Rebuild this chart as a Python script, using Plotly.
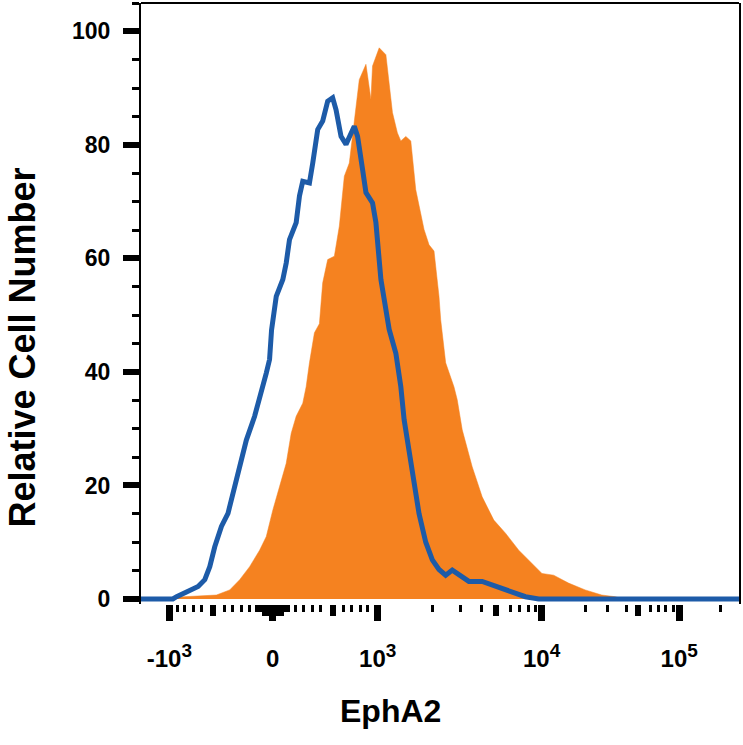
import plotly.graph_objects as go

# Histogram data in display-channel units (0..600 across the logicle axis)
isotype_channel = [0, 32, 35.7, 45.7, 57.3, 64, 69, 74, 80.7, 87.3,
                   92.3, 99, 105.7, 114, 120.7, 125.7, 129, 131, 135.7, 142.3,
                   145.7, 149, 155.7, 159, 162.3, 169, 172.3, 177.3, 182.3, 187.3,
                   192.3, 195.7, 200.7, 205.7, 214, 217.3, 222.3, 225.7, 232.3, 235.7,
                   240.7, 245.7, 249, 255.7, 260.7, 264, 269, 274, 279, 285.7,
                   292.3, 299, 305.7, 312.3, 319, 329, 342.3, 355.7, 372.3, 385.7,
                   399, 600]
isotype_count = [0, 0, 0.4, 1.3, 2.2, 3.4, 5.7, 9.2, 12.8, 15.1,
                 18.6, 23.9, 28.0, 32.2, 36.3, 39.8, 42.2, 47.4, 53.3, 56.3,
                 59.2, 63.3, 66.3, 71.0, 73.6, 73.3, 76.8, 82.7, 84.2, 87.7,
                 88.3, 86.2, 81.5, 80.1, 83.3, 81.5, 75.7, 71.6, 69.8, 66.3,
                 56.3, 51.0, 47.5, 43.3, 37.4, 31.6, 25.7, 19.8, 15.0, 10.0,
                 6.9, 5.2, 4.2, 5.1, 4.2, 3.1, 3.1, 2.2, 1.3, 0.4,
                 0, 0]

epha2_channel = [0, 35.7, 59, 75.7, 89, 99, 109, 119, 125.7, 132.3,
                 139, 145.7, 150.7, 155.7, 162.3, 165.7, 169, 174, 179, 182.3,
                 187.3, 194, 199, 204, 209, 214, 219, 225.7, 230.7, 232.3,
                 239, 245.7, 252.3, 257.3, 260.7, 265.7, 270.7, 275.7, 284, 289,
                 294, 299, 300.7, 305.7, 314, 317.3, 322.3, 332.3, 342.3, 354,
                 365.7, 379, 392.3, 402.3, 414, 429, 445.7, 462.3, 475.7, 484,
                 600]
epha2_count = [0, 0.3, 0.5, 0.7, 1.6, 3.4, 5.7, 8.6, 11.0, 15.7,
               19.8, 23.9, 29.2, 32.2, 34.5, 37.4, 41.6, 46.9, 48.5, 55.7,
               59.8, 60.4, 65.7, 74.5, 76.8, 83.9, 91.5, 94.2, 88.0, 93.9,
               97.1, 95.9, 85.7, 82.1, 80.7, 81.5, 80.7, 72.1, 65.1, 62.4,
               61.3, 53.3, 49.2, 41.6, 37.4, 35.1, 29.8, 23.3, 18.0, 13.9,
               11.6, 8.6, 6.3, 4.5, 4.2, 2.8, 1.6, 0.7, 0.4, 0,
               0]

# Axis ticks (channel positions of the logicle scale)
x_major_vals = [28.5, 132, 237.5, 402, 540]
x_major_text = ["-10<sup><span style='font-size:19px'>3</span></sup>", "0",
                "10<sup><span style='font-size:19px'>3</span></sup>",
                "10<sup><span style='font-size:19px'>4</span></sup>",
                "10<sup><span style='font-size:19px'>5</span></sup>"]
x_medium_vals = [72, 192.5, 356, 499] + [124 + 2 * i for i in range(9)]
x_minor_vals = ([37, 44, 52.5, 61, 84, 92, 100.5, 109,
                 155, 163.5, 172, 180, 203, 211.5, 220, 227,
                 292, 321, 342, 371, 380, 389, 396,
                 446, 468, 487, 511, 519, 526, 534, 581]
                + [116 + 2 * i for i in range(17)])
y_major_vals = [0, 20, 40, 60, 80, 100]

orange = "rgb(245,130,32)"
blue = "rgb(29,91,168)"
font_family = "Liberation Sans"

fig = go.Figure()
fig.add_trace(go.Scatter(x=epha2_channel, y=epha2_count, mode="lines",
                         fill="tozeroy", fillcolor=orange,
                         line=dict(color=orange, width=0.5), hoverinfo="skip",
                         showlegend=False))
fig.add_trace(go.Scatter(x=isotype_channel, y=isotype_count, mode="lines",
                         line=dict(color=blue, width=5), showlegend=False))
fig.add_trace(go.Scatter(x=[], y=[], xaxis="x2", showlegend=False))

fig.update_layout(
    width=743, height=745,
    margin=dict(l=141, r=2, t=3, b=141),
    plot_bgcolor="white", paper_bgcolor="white",
    font=dict(family=font_family, color="black"),
    xaxis=dict(range=[0, 600], tickmode="array", tickvals=x_major_vals,
               ticktext=x_major_text, ticks="outside", ticklen=16, tickwidth=7,
               tickcolor="black", showline=False, showgrid=False, zeroline=False,
               tickfont=dict(size=24, weight="bold", family=font_family),
               ticklabelstandoff=17,
               minor=dict(tickmode="array", tickvals=x_minor_vals, ticks="outside",
                          ticklen=7, tickwidth=3, tickcolor="black", showgrid=False)),
    xaxis2=dict(range=[0, 600], overlaying="x", anchor="y", side="bottom",
                tickmode="array", tickvals=x_medium_vals, ticks="outside",
                ticklen=11, tickwidth=6, tickcolor="black", showticklabels=False,
                showline=False, showgrid=False, zeroline=False),
    yaxis=dict(range=[-0.88, 105], tickmode="array", tickvals=y_major_vals,
               ticks="outside", ticklen=16, tickwidth=6, tickcolor="black",
               showline=True, linewidth=2, linecolor="black", mirror=True,
               showgrid=False, zeroline=False,
               tickfont=dict(size=23, weight="bold", family=font_family),
               ticklabelstandoff=8,
               minor=dict(dtick=5, tick0=0, ticks="outside", ticklen=7,
                          tickwidth=3, tickcolor="black", showgrid=False)),
    shapes=[dict(type="line", xref="paper", yref="paper", x0=0, x1=1, y0=1, y1=1,
                 line=dict(color="black", width=2))],
    annotations=[
        dict(text="Relative Cell Number", xref="paper", yref="paper",
             x=-0.198, y=0.426, xanchor="center", yanchor="middle",
             textangle=-90, showarrow=False,
             font=dict(size=36, weight="bold", family=font_family)),
        dict(text="EphA2", xref="paper", yref="paper", x=0.4167, y=-0.178,
             xanchor="center", yanchor="middle", showarrow=False,
             font=dict(size=32, weight="bold", family=font_family)),
    ],
)

fig.write_html("out.html", config={"displayModeBar": False},
               post_script="document.body.style.margin='0';")
